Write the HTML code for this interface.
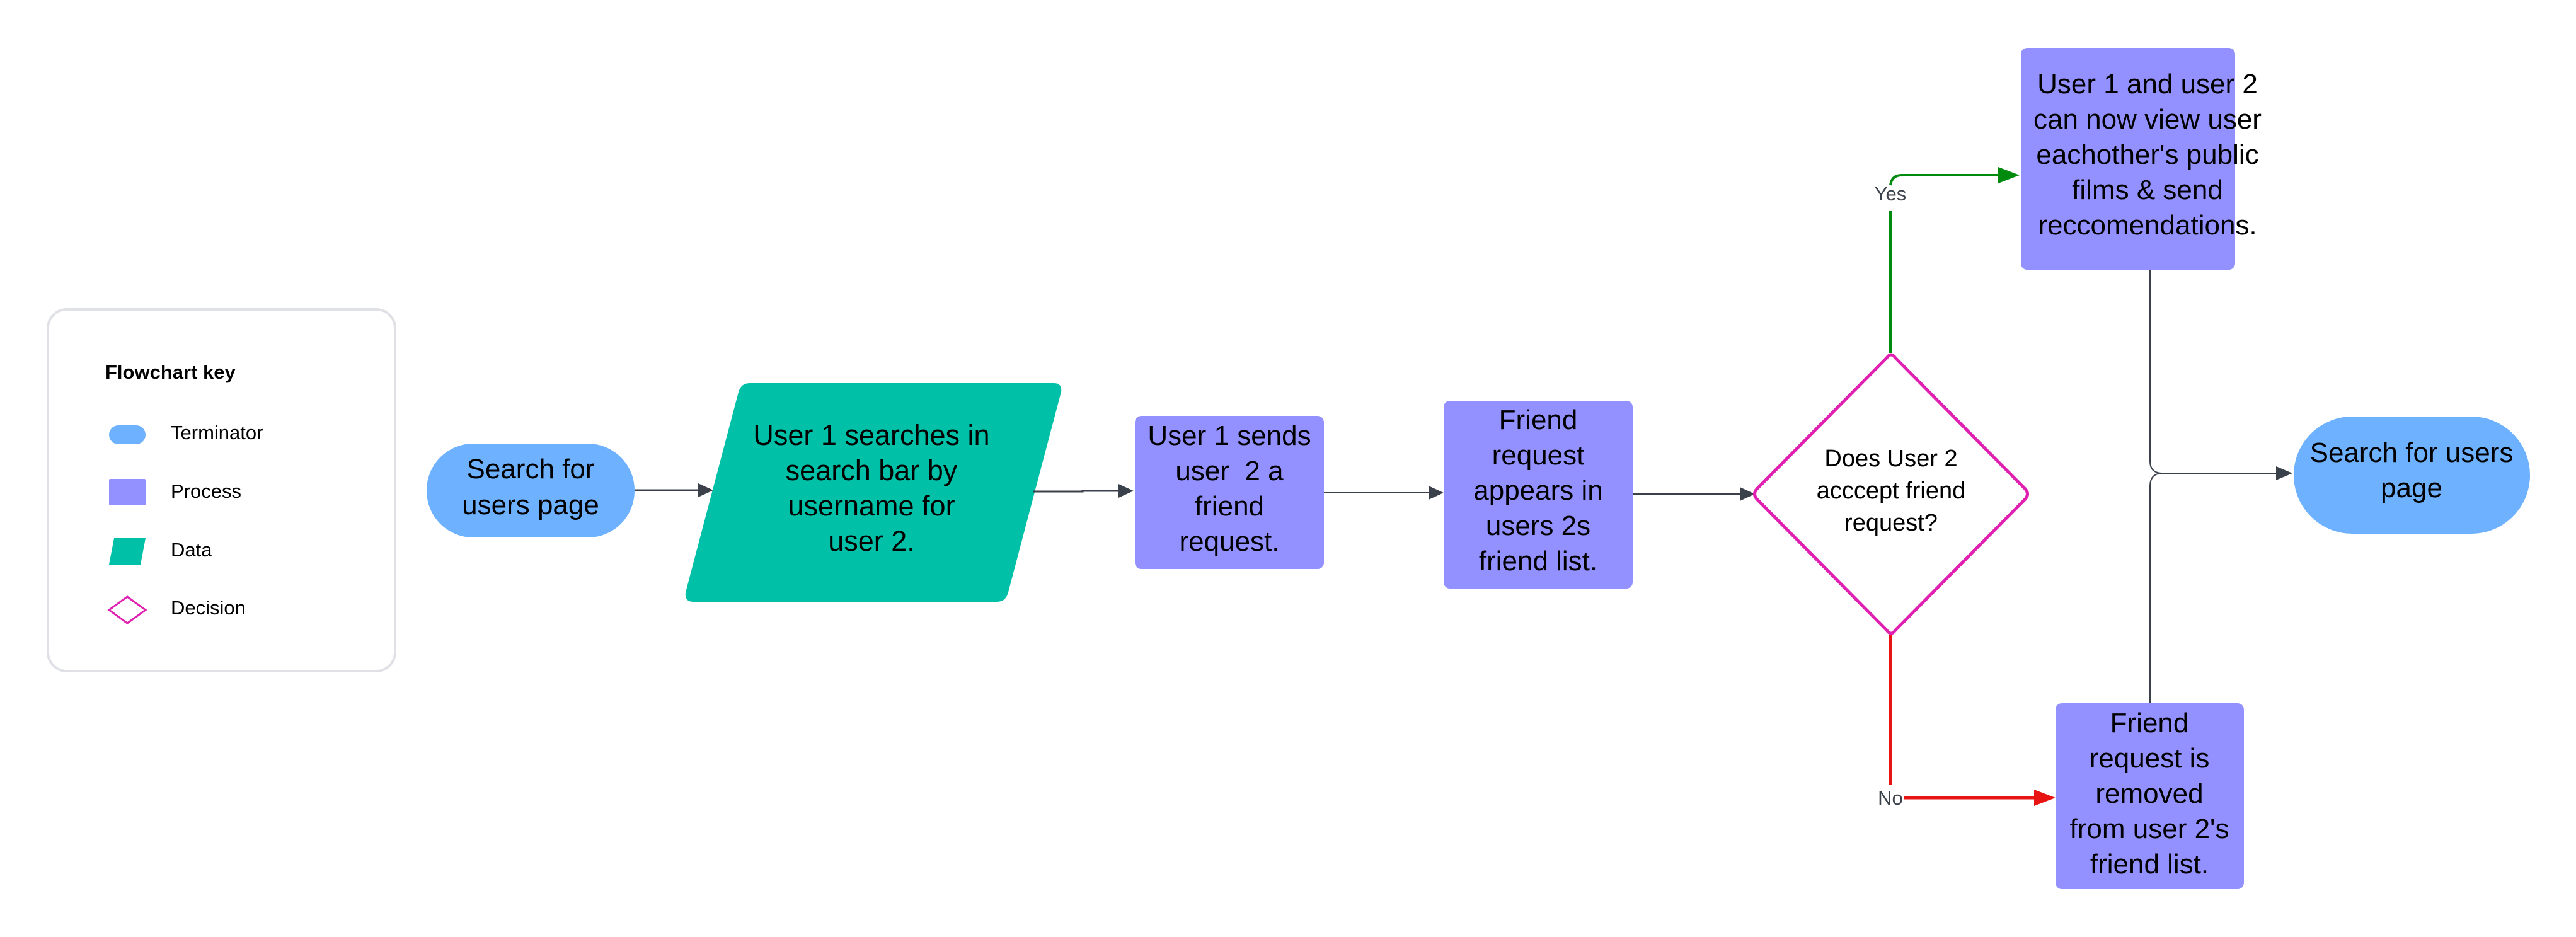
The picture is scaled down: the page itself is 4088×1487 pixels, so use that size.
<!DOCTYPE html>
<html><head><meta charset="utf-8"><style>
html,body{margin:0;padding:0;background:#fff}
svg{display:block}
text{font-family:"Liberation Sans",Arial,sans-serif}
</style></head><body>
<svg width="4088" height="1487" viewBox="0 0 4088 1487" xmlns="http://www.w3.org/2000/svg">
<defs>
<marker id="ag" markerWidth="10" markerHeight="10" refX="9" refY="5" orient="auto" markerUnits="userSpaceOnUse" viewBox="0 0 10 10"></marker>
</defs>
<rect width="4088" height="1487" fill="#fff"/>
<!-- Legend -->
<rect x="76" y="491" width="551" height="574" rx="30" fill="#fff" stroke="#dfe1e6" stroke-width="4"/>
<text x="167" y="601" font-size="31" font-weight="bold" fill="#000">Flowchart key</text>
<rect x="173" y="675" width="58" height="30" rx="15" fill="#6db1ff"/>
<text x="271" y="697" font-size="31" fill="#000">Terminator</text>
<rect x="173" y="760" width="58" height="42" rx="2" fill="#9391ff"/>
<text x="271" y="790" font-size="31" fill="#000">Process</text>
<path d="M181,854 L231,854 L223,896 L173,896 Z" fill="#00c1a8"/>
<text x="271" y="883" font-size="31" fill="#000">Data</text>
<path d="M202,947 L231,968 L202,989 L173,968 Z" fill="none" stroke="#e020b0" stroke-width="3"/>
<text x="271" y="975" font-size="31" fill="#000">Decision</text>

<!-- Terminator 1 -->
<rect x="677" y="704" width="330" height="149" rx="74" fill="#6db1ff"/>
<text x="842" y="759" font-size="44" text-anchor="middle" fill="#000">Search for</text>
<text x="842" y="816" font-size="44" text-anchor="middle" fill="#000">users page</text>
<!-- arrow -->
<line x1="1007" y1="778" x2="1110" y2="778" stroke="#3a414a" stroke-width="3"/>
<path d="M1132,778 L1108,767 L1108,789 Z" fill="#3a414a"/>

<!-- Data -->
<path d="M1190,608 L1672,608 Q1686,608 1684,622 L1600,940 Q1596,955 1582,955 L1100,955 Q1086,955 1088,940 L1172,622 Q1176,608 1190,608 Z" fill="#00c1a8"/>
<text x="1383" y="706" font-size="45" text-anchor="middle" fill="#000">User 1 searches in</text>
<text x="1383" y="762" font-size="45" text-anchor="middle" fill="#000">search bar by</text>
<text x="1383" y="818" font-size="45" text-anchor="middle" fill="#000">username for</text>
<text x="1383" y="874" font-size="45" text-anchor="middle" fill="#000">user 2.</text>
<polyline points="1639,780 1718,780 1718,779 1776,779" fill="none" stroke="#3a414a" stroke-width="3"/>
<path d="M1799,779 L1775,768 L1775,790 Z" fill="#3a414a"/>

<!-- Process 1 -->
<rect x="1801" y="660" width="300" height="243" rx="10" fill="#9391ff"/>
<text x="1951" y="706" font-size="44" text-anchor="middle" fill="#000">User 1 sends</text>
<text x="1951" y="762" font-size="44" text-anchor="middle" fill="#000" xml:space="preserve">user  2 a</text>
<text x="1951" y="818" font-size="44" text-anchor="middle" fill="#000">friend</text>
<text x="1951" y="874" font-size="44" text-anchor="middle" fill="#000">request.</text>
<line x1="2101" y1="782" x2="2268" y2="782" stroke="#3a414a" stroke-width="2"/>
<path d="M2291,782 L2267,771 L2267,793 Z" fill="#3a414a"/>

<!-- Process 2 -->
<rect x="2291" y="636" width="300" height="298" rx="10" fill="#9391ff"/>
<text x="2441" y="681" font-size="44" text-anchor="middle" fill="#000">Friend</text>
<text x="2441" y="737" font-size="44" text-anchor="middle" fill="#000">request</text>
<text x="2441" y="793" font-size="44" text-anchor="middle" fill="#000">appears in</text>
<text x="2441" y="849" font-size="44" text-anchor="middle" fill="#000">users 2s</text>
<text x="2441" y="905" font-size="44" text-anchor="middle" fill="#000">friend list.</text>
<line x1="2591" y1="784" x2="2762" y2="784" stroke="#3a414a" stroke-width="3"/>
<path d="M2785,784 L2761,773 L2761,795 Z" fill="#3a414a"/>

<!-- Decision -->
<path d="M2994,568 Q3001,558 3008,568 L3214,776 Q3221,784 3214,792 L3008,1000 Q3001,1010 2994,1000 L2788,792 Q2781,784 2788,776 Z" fill="#fff" stroke="#e020b0" stroke-width="5"/>
<text x="3001" y="740" font-size="38" text-anchor="middle" fill="#000">Does User 2</text>
<text x="3001" y="791" font-size="38" text-anchor="middle" fill="#000">acccept friend</text>
<text x="3001" y="842" font-size="38" text-anchor="middle" fill="#000">request?</text>

<!-- Yes -->
<line x1="3000" y1="560" x2="3000" y2="335" stroke="#008a0e" stroke-width="4"/>
<path d="M3000,294 Q3002,278 3018,278 L3180,278" fill="none" stroke="#008a0e" stroke-width="4"/>
<path d="M3205,278 L3171,265 L3171,291 Z" fill="#008a0e"/>
<text x="3000" y="318" font-size="31" text-anchor="middle" fill="#3a414a">Yes</text>

<!-- Top box -->
<rect x="3207" y="76" width="340" height="352" rx="10" fill="#9391ff"/>
<text x="3408" y="148" font-size="44" text-anchor="middle" fill="#000">User 1 and user 2</text>
<text x="3408" y="204" font-size="44" text-anchor="middle" fill="#000">can now view user</text>
<text x="3408" y="260" font-size="44" text-anchor="middle" fill="#000">eachother's public</text>
<text x="3408" y="316" font-size="44" text-anchor="middle" fill="#000">films &amp; send</text>
<text x="3408" y="372" font-size="44" text-anchor="middle" fill="#000">reccomendations.</text>

<!-- No -->
<line x1="3000" y1="1008" x2="3000" y2="1246" stroke="#e81313" stroke-width="4"/>
<line x1="3021" y1="1266" x2="3240" y2="1266" stroke="#e81313" stroke-width="5"/>
<path d="M3262,1266 L3228,1253 L3228,1279 Z" fill="#e81313"/>
<text x="3000" y="1277" font-size="31" text-anchor="middle" fill="#3a414a">No</text>

<!-- Bottom box -->
<rect x="3262" y="1116" width="299" height="295" rx="10" fill="#9391ff"/>
<text x="3411" y="1162" font-size="44" text-anchor="middle" fill="#000">Friend</text>
<text x="3411" y="1218" font-size="44" text-anchor="middle" fill="#000">request is</text>
<text x="3411" y="1274" font-size="44" text-anchor="middle" fill="#000">removed</text>
<text x="3411" y="1330" font-size="44" text-anchor="middle" fill="#000">from user 2's</text>
<text x="3411" y="1386" font-size="44" text-anchor="middle" fill="#000">friend list.</text>

<!-- merge -->
<path d="M3412,428 L3412,732 Q3412,751 3432,751 L3612,751" fill="none" stroke="#3a414a" stroke-width="2"/>
<path d="M3412,1116 L3412,772 Q3412,751 3432,751" fill="none" stroke="#3a414a" stroke-width="2"/>
<path d="M3638,751 L3612,740 L3612,762 Z" fill="#3a414a"/>

<!-- Terminator 2 -->
<rect x="3640" y="661" width="375" height="186" rx="93" fill="#6db1ff"/>
<text x="3827" y="733" font-size="44" text-anchor="middle" fill="#000">Search for users</text>
<text x="3827" y="789" font-size="44" text-anchor="middle" fill="#000">page</text>
</svg>
</body></html>
